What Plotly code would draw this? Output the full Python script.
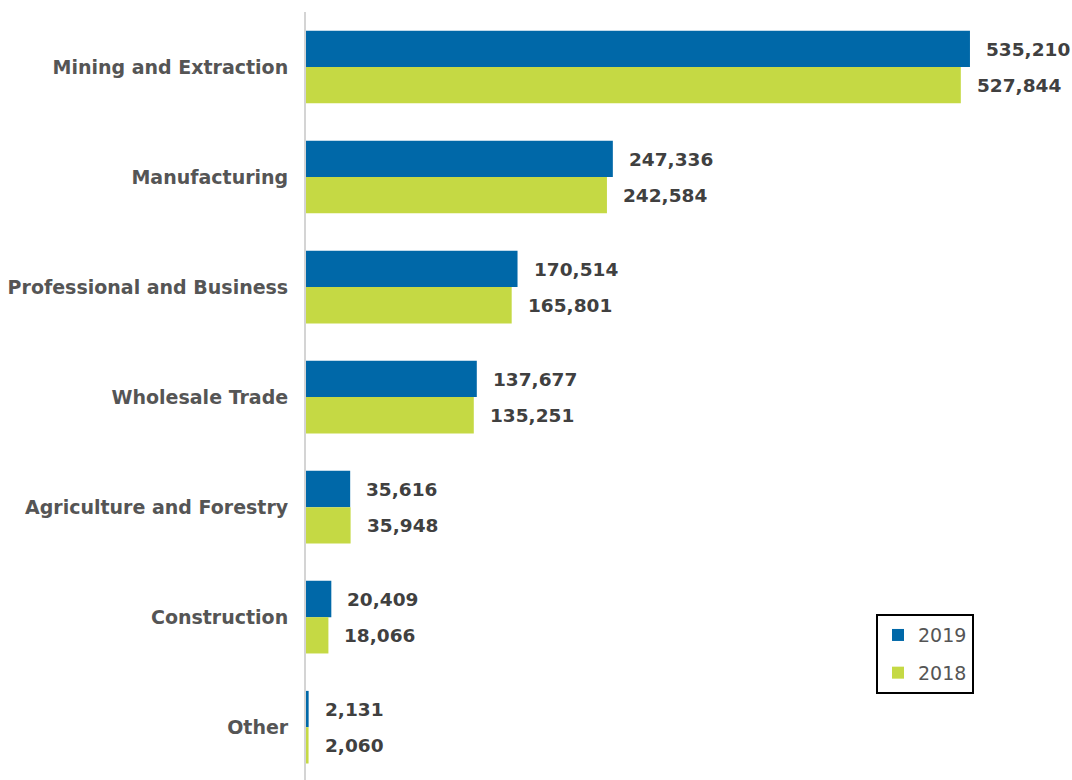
import plotly.graph_objects as go

# Data
categories = ["Mining and Extraction", "Manufacturing", "Professional and Business",
              "Wholesale Trade", "Agriculture and Forestry", "Construction", "Other"]
values_2019 = [535210, 247336, 170514, 137677, 35616, 20409, 2131]
values_2018 = [527844, 242584, 165801, 135251, 35948, 18066, 2060]

BLUE = "#0068a8"
GREEN = "#c5d944"
FONT = "DejaVu Sans"

fig = go.Figure()

# bars (legend drawn separately with square markers)
fig.add_trace(go.Bar(y=categories, x=values_2019, orientation="h", name="2019",
                     marker=dict(color=BLUE, line=dict(width=0)), showlegend=False))
fig.add_trace(go.Bar(y=categories, x=values_2018, orientation="h", name="2018",
                     marker=dict(color=GREEN, line=dict(width=0)), showlegend=False))

# legend-only traces with small square symbols
for name, color in [("2019", BLUE), ("2018", GREEN)]:
    fig.add_trace(go.Scatter(x=[None], y=[None], mode="markers", name=name,
                             legendgroup=name,
                             marker=dict(symbol="square", size=10, color=color)))

# value labels to the right of each bar
for cat, v19, v18 in zip(categories, values_2019, values_2018):
    for val, shift in [(v19, 18), (v18, -18)]:
        fig.add_annotation(x=val, y=cat, text=f"{val:,}", showarrow=False,
                           xanchor="left", yanchor="middle", xshift=14, yshift=shift,
                           font=dict(family=FONT, size=18.5, color="#404040", weight="bold"))

fig.update_layout(
    width=1072, height=780,
    margin=dict(l=306, r=10, t=12, b=0),
    plot_bgcolor="white", paper_bgcolor="white",
    barmode="group", bargap=0.34, bargroupgap=0,
    font=dict(family=FONT),
    legend=dict(x=0.754, y=0.216, xanchor="left", yanchor="top",
                bordercolor="black", borderwidth=2, bgcolor="white",
                font=dict(family=FONT, size=19, color="#555555"),
                itemsizing="constant", tracegroupgap=10),
)
fig.update_xaxes(range=[0, 609400], visible=False, showgrid=False, zeroline=False)
fig.update_yaxes(autorange=False, range=[6.48, -0.5], showgrid=False, zeroline=False,
                 showline=True, linecolor="#d4d4d4", linewidth=2, ticks="",
                 ticklabelstandoff=12,
                 tickfont=dict(family=FONT, size=19, color="#555555", weight="bold"))

# drop the default page margin so the figure sits at the window corner
fig.write_html("out.html", config={"displayModeBar": False},
               post_script="document.body.style.margin='0';")
